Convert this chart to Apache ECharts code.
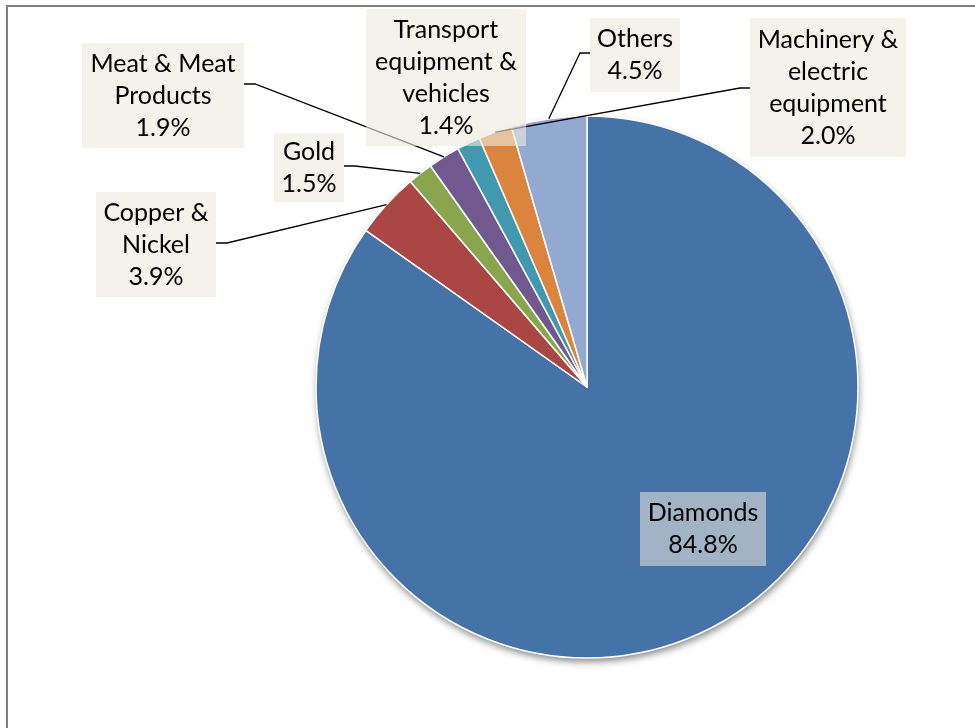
<!DOCTYPE html>
<html>
<head>
<meta charset="utf-8">
<script src="https://cdn.jsdelivr.net/npm/echarts@6/dist/echarts.min.js"></script>
<style>
  html, body { margin: 0; padding: 0; background: #ffffff; }
  #chart { width: 975px; height: 728px; }
</style>
</head>
<body>
<div id="chart"></div>
<script>
// ---- data ----
const categories = [
  'Diamonds',
  'Copper &\nNickel',
  'Gold',
  'Meat & Meat\nProducts',
  'Transport\nequipment &\nvehicles',
  'Machinery &\nelectric\nequipment',
  'Others'
];
const shares = [84.8, 3.9, 1.5, 1.9, 1.4, 2.0, 4.5];
const sliceColors = ['#4572A7', '#AA4643', '#89A54E', '#71588F', '#4198AF', '#DB843D', '#93A9CF'];

// ---- layout (label boxes: center, size, leader attachment) ----
const PIE_CX = 587, PIE_CY = 387, PIE_R = 271;
const labelBoxes = [
  { cx: 703, cy: 529, w: 126, h: 74, side: null, alpha: 0.55 },
  { cx: 156, cy: 244.5, w: 120, h: 105, side: 'left', lineY: 243 },
  { cx: 309, cy: 167.5, w: 70, h: 69, side: 'left', lineY: 166 },
  { cx: 163, cy: 95.5, w: 162, h: 105, side: 'left', lineY: 84 },
  { cx: 446, cy: 77.5, w: 160, h: 137, side: null },
  { cx: 828, cy: 87.5, w: 156, h: 139, side: 'right', lineY: 88 },
  { cx: 635, cy: 55, w: 90, h: 74, side: 'right', lineY: 53 }
];
const LINE_H = 32;
const total = shares.reduce((a, b) => a + b, 0);

function anchorPoint(i) {
  let before = 0;
  for (let k = 0; k < i; k++) before += shares[k];
  const mid = (before + shares[i] / 2) / total * Math.PI * 2;
  return [PIE_CX + PIE_R * Math.sin(mid), PIE_CY - PIE_R * Math.cos(mid)];
}

const sliceData = categories.map((name, i) => ({
  name: name,
  value: shares[i],
  itemStyle: { color: sliceColors[i] }
}));

const labelData = categories.map((name, i) => {
  const b = labelBoxes[i];
  const nLines = name.split('\n').length + 1;
  const pv = Math.max(0, (b.h - nLines * LINE_H) / 2);
  const a = b.alpha != null ? b.alpha : 0.62;
  return {
    name: name,
    value: shares[i],
    label: {
      width: b.w,
      padding: [pv, 0, pv, 0],
      backgroundColor: 'rgba(236,234,222,' + a + ')'
    },
    labelLine: { show: !!b.side }
  };
});

const chart = echarts.init(document.getElementById('chart'), null, { renderer: 'canvas' });
chart.setOption({
  animation: false,
  backgroundColor: '#ffffff',
  graphic: [{
    type: 'rect',
    z: -10,
    shape: { x: 7, y: 6, width: 1100, height: 900 },
    style: { fill: 'none', stroke: '#808080', lineWidth: 2 }
  }],
  series: [
    {
      // shadow underlay for the pie
      type: 'pie',
      silent: true,
      z: 1,
      center: [PIE_CX, PIE_CY],
      radius: PIE_R,
      label: { show: false },
      labelLine: { show: false },
      emphasis: { disabled: true },
      data: [{ value: total, name: '' }],
      itemStyle: {
        color: '#ffffff',
        shadowBlur: 7,
        shadowOffsetX: 1,
        shadowOffsetY: 4,
        shadowColor: 'rgba(0,0,0,0.45)'
      }
    },
    {
      // slices
      type: 'pie',
      z: 2,
      center: [PIE_CX, PIE_CY],
      radius: PIE_R,
      startAngle: 90,
      clockwise: true,
      silent: true,
      itemStyle: { borderColor: '#ffffff', borderWidth: 1.5 },
      emphasis: { disabled: true },
      label: { show: false },
      labelLine: { show: false },
      data: sliceData
    },
    {
      // labels and leader lines drawn above all slices
      type: 'pie',
      z: 3,
      center: [PIE_CX, PIE_CY],
      radius: PIE_R,
      startAngle: 90,
      clockwise: true,
      silent: true,
      avoidLabelOverlap: false,
      itemStyle: { color: 'rgba(0,0,0,0)', borderWidth: 0 },
      emphasis: { disabled: true },
      label: {
        show: true,
        position: 'outside',
        fontFamily: 'Lato',
        fontSize: 25,
        lineHeight: LINE_H,
        color: '#000000',
        align: 'center',
        formatter: p => p.name + '\n' + p.value.toFixed(1) + '%'
      },
      labelLine: {
        show: true,
        lineStyle: { color: '#000000', width: 1.3 }
      },
      labelLayout: function (params) {
        const i = params.dataIndex;
        const b = labelBoxes[i];
        const res = { x: b.cx, y: b.cy, align: 'center', verticalAlign: 'middle' };
        if (b.side) {
          const p0 = anchorPoint(i);
          let end, bend;
          if (b.side === 'left') {
            end = [b.cx + b.w / 2, b.lineY];
            bend = [end[0] + 11, b.lineY];
          } else {
            end = [b.cx - b.w / 2, b.lineY];
            bend = [end[0] - 10, b.lineY];
          }
          res.labelLinePoints = [p0, bend, end];
        }
        return res;
      },
      data: labelData
    }
  ]
});
</script>
</body>
</html>
